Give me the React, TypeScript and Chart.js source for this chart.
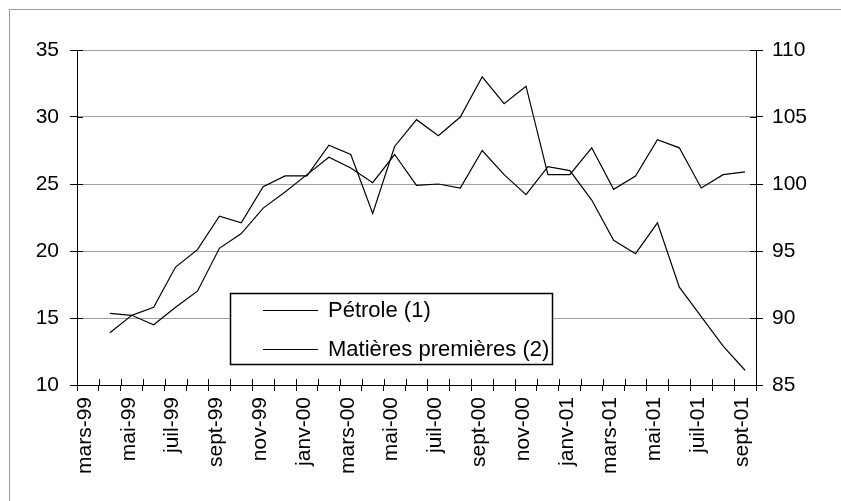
import React, { useEffect, useRef } from "react";
import { Chart, registerables } from "chart.js";

Chart.register(...registerables);

const months = [
  "mars-99", "avr-99", "mai-99", "juin-99", "juil-99", "août-99", "sept-99", "oct-99", "nov-99", "déc-99",
  "janv-00", "févr-00", "mars-00", "avr-00", "mai-00", "juin-00", "juil-00", "août-00", "sept-00", "oct-00",
  "nov-00", "déc-00", "janv-01", "févr-01", "mars-01", "avr-01", "mai-01", "juin-01", "juil-01", "août-01",
  "sept-01",
];

const petrole = [
  null, 15.35, 15.2, 15.8, 18.8, 20.1, 22.6, 22.1, 24.8, 25.6, 25.6,
  27.9, 27.2, 22.8, 27.8, 29.8, 28.6, 30.0, 33.0, 31.0, 32.3,
  25.7, 25.7, 27.7, 24.6, 25.6, 28.3, 27.7, 24.7, 25.7, 25.9,
];

const matieres = [
  null, 88.9, 90.2, 89.5, 90.8, 92.0, 95.2, 96.3, 98.2, 99.4, 100.7,
  102.0, 101.2, 100.1, 102.2, 99.9, 100.0, 99.7, 102.5, 100.7, 99.2,
  101.3, 101.0, 98.8, 95.8, 94.8, 97.1, 92.3, 90.1, 87.9, 86.1,
];

const seriesLabels = ["Pétrole (1)", "Matières premières (2)"];
const leftTicks = { min: 10, max: 35, step: 5 };
const rightTicks = { min: 85, max: 110, step: 5 };

const FONT = "'Liberation Sans', Arial, sans-serif";
const TICK_SIZE = 21;
const LEGEND_SIZE = 22;

const frameAndLegend = {
  id: "frameAndLegend",
  beforeDraw(chart: any) {
    const ctx = chart.ctx;
    ctx.save();
    ctx.fillStyle = "#ffffff";
    ctx.fillRect(0, 0, chart.width, chart.height);
    ctx.strokeStyle = "#9a9a9a";
    ctx.lineWidth = 1;
    ctx.strokeRect(9.5, 9.5, chart.width + 20, chart.height + 20);
    ctx.restore();
  },
  afterDraw(chart: any, _args: any, opts: any) {
    const ctx = chart.ctx;
    // crossing ticks on the inside of the axes
    ctx.save();
    ctx.strokeStyle = "#000";
    ctx.lineWidth = 1;
    const xs = chart.scales.x;
    const step = xs.getPixelForValue(1) - xs.getPixelForValue(0);
    ctx.beginPath();
    for (let i = 0; i <= months.length; i++) {
      const bx = Math.round(xs.getPixelForValue(i) - step / 2) + 0.5;
      ctx.moveTo(bx, xs.top - 6);
      ctx.lineTo(bx, xs.top);
    }
    const yl = chart.scales.y;
    for (let v = leftTicks.min; v <= leftTicks.max; v += leftTicks.step) {
      const py = Math.round(yl.getPixelForValue(v)) + 0.5;
      ctx.moveTo(yl.right, py);
      ctx.lineTo(yl.right + 6, py);
    }
    const yr = chart.scales.y1;
    for (let v = rightTicks.min; v <= rightTicks.max; v += rightTicks.step) {
      const py = Math.round(yr.getPixelForValue(v)) + 0.5;
      ctx.moveTo(yr.left - 6, py);
      ctx.lineTo(yr.left, py);
    }
    ctx.stroke();
    ctx.restore();

    // legend box
    ctx.save();
    ctx.fillStyle = "#ffffff";
    ctx.fillRect(opts.x, opts.y, opts.w, opts.h);
    ctx.strokeStyle = "#000";
    ctx.lineWidth = 1.5;
    ctx.strokeRect(opts.x + 0.5, opts.y + 0.5, opts.w, opts.h);
    ctx.font = `${LEGEND_SIZE}px ${FONT}`;
    ctx.textBaseline = "middle";
    ctx.fillStyle = "#000";
    chart.data.datasets.forEach((ds: any, i: number) => {
      const ry = opts.rows[i];
      ctx.beginPath();
      ctx.lineWidth = 1;
      ctx.moveTo(opts.lineX1, ry + 0.5);
      ctx.lineTo(opts.lineX2, ry + 0.5);
      ctx.stroke();
      ctx.fillText(ds.label, opts.textX, ry + 1);
    });
    ctx.restore();
  },
};

export default function App() {
  const ref = useRef<HTMLCanvasElement | null>(null);

  useEffect(() => {
    document.body.style.margin = "0";
    document.body.style.overflow = "hidden";
    const canvas = ref.current;
    if (!canvas) return;
    const font = { family: FONT, size: TICK_SIZE };
    const chart = new Chart(canvas, {
      type: "line",
      data: {
        labels: months,
        datasets: [
          {
            label: seriesLabels[0],
            data: petrole,
            yAxisID: "y",
            borderColor: "#000",
            borderWidth: 1.2,
            pointRadius: 0,
            tension: 0,
            fill: false,
          },
          {
            label: seriesLabels[1],
            data: matieres,
            yAxisID: "y1",
            borderColor: "#000",
            borderWidth: 1.2,
            pointRadius: 0,
            tension: 0,
            fill: false,
          },
        ],
      },
      options: {
        animation: false,
        responsive: false,
        devicePixelRatio: 1,
        layout: { padding: { top: 50, left: 0, right: 0, bottom: 0 } },
        plugins: {
          legend: { display: false },
          tooltip: { enabled: false },
          frameAndLegend: {
            x: 230, y: 293, w: 322, h: 71,
            rows: [310, 349],
            lineX1: 263, lineX2: 318, textX: 328,
          },
        } as any,
        scales: {
          x: {
            type: "category",
            offset: true,
            grid: {
              offset: true,
              drawOnChartArea: false,
              tickLength: 6,
              tickColor: "#000",
              color: "#000",
            },
            border: { color: "#000", width: 1 },
            ticks: {
              autoSkip: false,
              maxRotation: 90,
              minRotation: 90,
              padding: 6,
              labelOffset: -3,
              color: "#000",
              font,
              callback: (_v: any, i: number) => (i % 2 === 0 ? months[i] : ""),
            },
            afterFit: (s: any) => {
              s.height = 116;
            },
          },
          y: {
            position: "left",
            min: leftTicks.min,
            max: leftTicks.max,
            ticks: { stepSize: leftTicks.step, padding: 11, color: "#000", font },
            grid: { color: "#a0a0a0", tickColor: "#000", tickLength: 7, lineWidth: 1 },
            border: { color: "#000", width: 1 },
            afterFit: (s: any) => {
              s.width = 77;
            },
          },
          y1: {
            position: "right",
            min: rightTicks.min,
            max: rightTicks.max,
            ticks: { stepSize: rightTicks.step, padding: 9, color: "#000", font },
            grid: { drawOnChartArea: false, tickColor: "#000", tickLength: 7 },
            border: { color: "#000", width: 1 },
            afterFit: (s: any) => {
              s.width = 85;
            },
          },
        },
      } as any,
      plugins: [frameAndLegend],
    });
    return () => chart.destroy();
  }, []);

  return (
    <div style={{ position: "absolute", left: 0, top: 0, width: 841, height: 501 }}>
      <canvas ref={ref} width={841} height={501} />
    </div>
  );
}
